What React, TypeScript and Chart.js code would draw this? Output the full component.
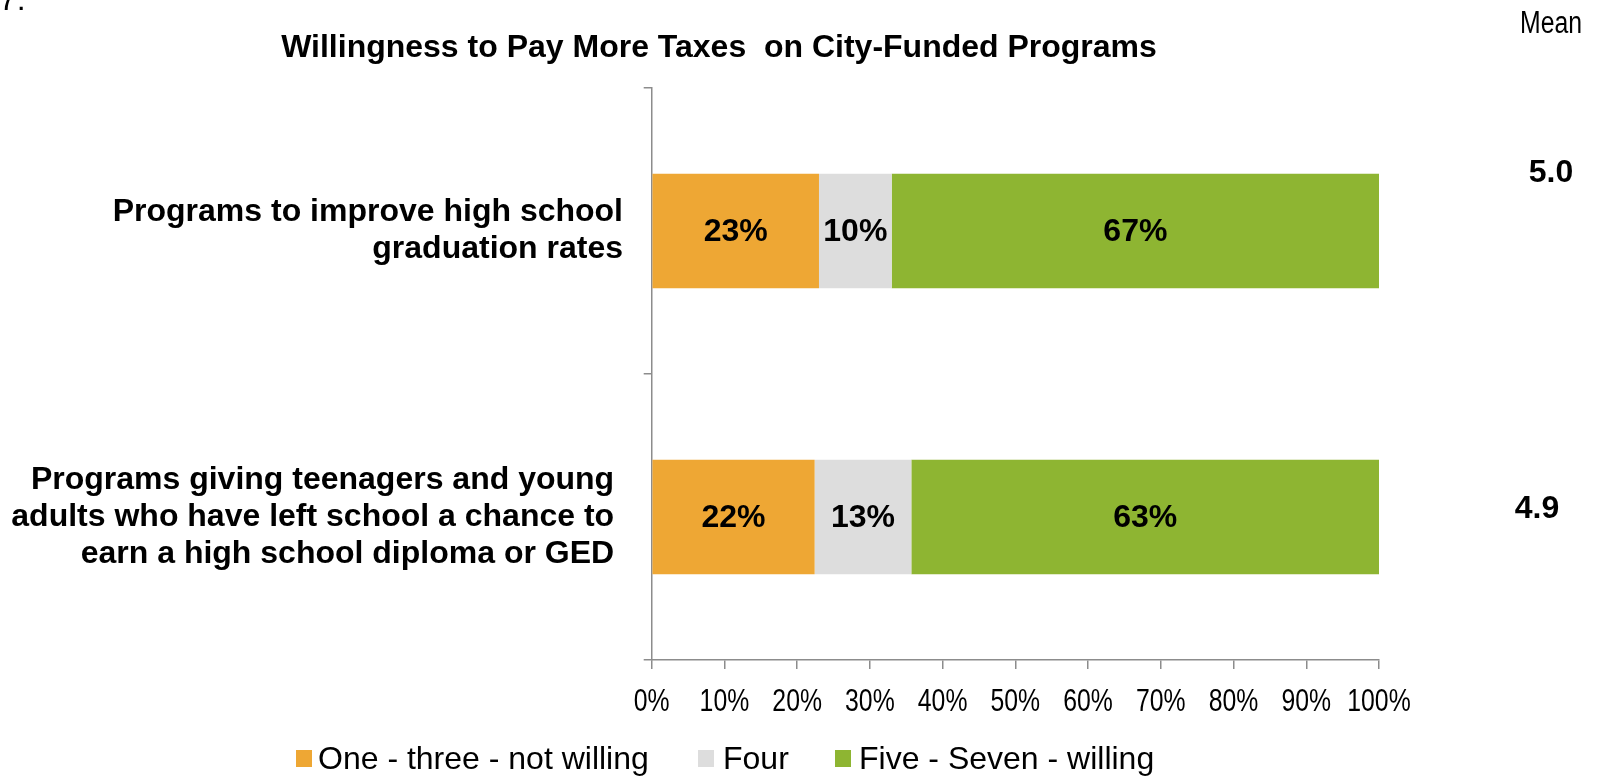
import React, { useEffect, useRef } from "react";
import { Chart, registerables } from "chart.js";

Chart.register(...registerables);

// ---------- data ----------
const categories: string[][] = [
  ["Programs to improve high school", "graduation rates"],
  [
    "Programs giving teenagers and young ",
    "adults who have left school a chance to ",
    "earn a high school diploma or GED ",
  ],
];
const seriesNames = ["One - three - not willing", "Four", "Five - Seven - willing"];
const notWillingValues = [23, 22.4];
const fourValues = [10, 13.3];
const willingValues = [67, 64.3];
const notWillingLabels = ["23%", "22%"];
const fourLabels = ["10%", "13%"];
const willingLabels = ["67%", "63%"];
const meanValues = ["5.0", "4.9"];
const meanHeader = "Mean";
const chartTitle = "Willingness to Pay More Taxes  on City-Funded Programs";
const cornerText = "7:";
const xTickValues = [0, 10, 20, 30, 40, 50, 60, 70, 80, 90, 100];
const seriesColors = ["#EEA734", "#DDDDDD", "#8EB532"];

// ---------- styles ----------
const SANS = "'Liberation Sans', Arial, Helvetica, sans-serif";
const AXIS_COLOR = "#8c8c8c";
const NARROW_RATIO = 0.8;

const segmentLabels = [notWillingLabels, fourLabels, willingLabels];

function drawNarrow(ctx: CanvasRenderingContext2D, text: string, x: number, y: number) {
  ctx.save();
  ctx.translate(x, y);
  ctx.scale(NARROW_RATIO, 1);
  ctx.fillText(text, 0, 0);
  ctx.restore();
}

const overlayPlugin = {
  id: "overlay",
  afterDatasetsDraw(chart: any) {
    const ctx = chart.ctx as CanvasRenderingContext2D;
    ctx.save();
    ctx.fillStyle = "#000";
    ctx.font = `bold 32px ${SANS}`;
    ctx.textAlign = "center";
    ctx.textBaseline = "middle";
    chart.data.datasets.forEach((_ds: any, di: number) => {
      const meta = chart.getDatasetMeta(di);
      meta.data.forEach((el: any, i: number) => {
        const cx = (el.x + el.base) / 2;
        ctx.fillText(segmentLabels[di][i], cx, el.y + 1);
      });
    });
    ctx.restore();
  },
  afterDraw(chart: any) {
    const ctx = chart.ctx as CanvasRenderingContext2D;
    ctx.save();
    ctx.fillStyle = "#000";
    // x tick labels (condensed look), positioned by the x scale
    const xs = chart.scales.x;
    ctx.font = `31px ${SANS}`;
    ctx.textAlign = "center";
    ctx.textBaseline = "middle";
    xs.ticks.forEach((t: any) => {
      drawNarrow(ctx, `${t.value}%`, xs.getPixelForValue(t.value), 702);
    });
    // corner text
    ctx.font = `32px ${SANS}`;
    ctx.textAlign = "left";
    ctx.textBaseline = "alphabetic";
    ctx.fillText(cornerText, -1, 10);
    // title
    ctx.font = `bold 32px ${SANS}`;
    ctx.textAlign = "center";
    ctx.textBaseline = "middle";
    ctx.fillText(chartTitle, 719, 48);
    // mean header
    ctx.font = `31px ${SANS}`;
    drawNarrow(ctx, meanHeader, 1551, 24);
    // mean values
    ctx.font = `bold 32px ${SANS}`;
    const meanX = [1551, 1537];
    const meanY = [173, 509];
    meanValues.forEach((m, i) => ctx.fillText(m, meanX[i], meanY[i]));
    // legend
    const starts = [296, 698, 835];
    const textOffsets = [22, 25, 24];
    ctx.font = `32px ${SANS}`;
    ctx.textAlign = "left";
    chart.data.datasets.forEach((ds: any, i: number) => {
      const x = starts[i];
      ctx.fillStyle = ds.backgroundColor;
      ctx.fillRect(x, 750, 16, 17);
      ctx.fillStyle = "#000";
      ctx.fillText(ds.label, x + textOffsets[i], 760);
    });
    ctx.restore();
  },
};

export default function App() {
  const canvasRef = useRef<HTMLCanvasElement | null>(null);

  useEffect(() => {
    document.body.style.margin = "0";
    const canvas = canvasRef.current;
    if (!canvas) return;
    const datasets = [notWillingValues, fourValues, willingValues].map((vals, i) => ({
      label: seriesNames[i],
      data: vals,
      backgroundColor: seriesColors[i],
      borderWidth: 0,
      barPercentage: 1,
      categoryPercentage: 0.4,
    }));
    const chart = new Chart(canvas, {
      type: "bar",
      data: { labels: categories as any, datasets },
      options: {
        indexAxis: "y",
        responsive: false,
        animation: false,
        devicePixelRatio: 1,
        layout: { padding: { left: 0, right: 223, top: 88, bottom: 56 } },
        plugins: {
          legend: { display: false },
          title: { display: false },
          tooltip: { enabled: false },
        },
        scales: {
          x: {
            stacked: true,
            min: 0,
            max: 100,
            afterBuildTicks: (scale: any) => {
              scale.ticks = xTickValues.map((v) => ({ value: v }));
            },
            ticks: {
              display: false,
              autoSkip: false,
            },
            grid: {
              display: true,
              drawOnChartArea: false,
              drawTicks: true,
              tickLength: 9,
              color: AXIS_COLOR,
              lineWidth: 1.5,
            },
            border: { display: true, color: AXIS_COLOR, width: 1.5 },
            afterFit: (s: any) => {
              s.height = 60;
            },
          },
          y: {
            stacked: true,
            ticks: {
              color: "#000",
              font: { family: SANS, size: 32, weight: "bold", lineHeight: 1.15 },
              padding: 20.7,
              autoSkip: false,
            },
            grid: {
              display: true,
              drawOnChartArea: false,
              drawTicks: true,
              tickLength: 8,
              offset: true,
              color: AXIS_COLOR,
              lineWidth: 1.5,
            },
            border: { display: true, color: AXIS_COLOR, width: 1.5 },
            afterFit: (s: any) => {
              s.width = 651.7;
            },
          },
        },
      } as any,
      plugins: [overlayPlugin],
    });
    return () => chart.destroy();
  }, []);

  return (
    <div
      style={{
        position: "fixed",
        left: 0,
        top: 0,
        width: 1602,
        height: 776,
        background: "#fff",
      }}
    >
      <canvas ref={canvasRef} width={1602} height={776} style={{ display: "block" }} />
    </div>
  );
}
